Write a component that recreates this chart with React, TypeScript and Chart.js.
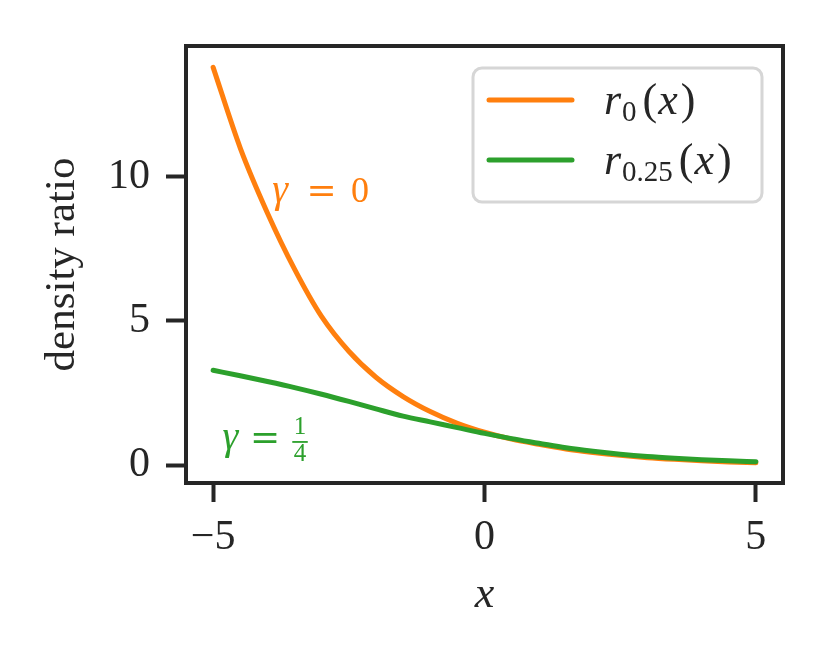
import { useEffect, useRef } from 'react';
import { Chart, registerables } from 'chart.js';

Chart.register(...registerables);

// ---- data ----
const xValues = [-5, -4.5, -4, -3.5, -3, -2.5, -2, -1.5, -1, -0.5, 0, 0.5, 1, 1.5, 2, 2.5, 3, 3.5, 4, 4.5, 5];
const r0Values = [13.8, 11.0, 8.75, 6.8, 5.15, 3.95, 3.05, 2.38, 1.86, 1.45, 1.14, 0.9, 0.72, 0.56, 0.44, 0.34, 0.26, 0.2, 0.15, 0.11, 0.08];
const r025Values = [3.29, 3.1, 2.9, 2.69, 2.46, 2.21, 1.95, 1.7, 1.5, 1.3, 1.1, 0.92, 0.76, 0.6, 0.48, 0.38, 0.3, 0.24, 0.19, 0.15, 0.12];
const xTicks = [-5, 0, 5];
const yTicks = [0, 5, 10];
const seriesBase = ['r', 'r'];
const seriesSub = ['0', '0.25'];
const xTitle = 'x';
const yTitle = 'density ratio';

const ORANGE = '#ff7f0e';
const GREEN = '#2ca02c';
const DARK = '#262626';
const SERIF = '"Liberation Serif", "Times New Roman", serif';
const WIDE = '"DejaVu Serif", serif';

const decorPlugin = {
  id: 'decor',
  afterDraw(chart: any) {
    const { ctx, chartArea: a, scales } = chart;
    ctx.save();
    // frame (spines)
    ctx.strokeStyle = DARK;
    ctx.lineWidth = 4;
    ctx.strokeRect(a.left, a.top, a.right - a.left, a.bottom - a.top);

    // legend
    const lx = a.right - 310;
    const ly = a.top + 22;
    const lw = 289;
    const lh = 134;
    ctx.beginPath();
    ctx.roundRect(lx, ly, lw, lh, 9);
    ctx.fillStyle = 'rgba(255,255,255,0.85)';
    ctx.fill();
    ctx.lineWidth = 3;
    ctx.strokeStyle = '#d6d6d6';
    ctx.stroke();

    const colors = [ORANGE, GREEN];
    for (let i = 0; i < 2; i++) {
      const y = ly + 32 + i * 60;
      ctx.beginPath();
      ctx.moveTo(lx + 16, y);
      ctx.lineTo(lx + 99, y);
      ctx.lineWidth = 5;
      ctx.lineCap = 'round';
      ctx.strokeStyle = colors[i];
      ctx.stroke();

      ctx.fillStyle = DARK;
      ctx.textAlign = 'left';
      ctx.textBaseline = 'alphabetic';
      const base = y + 14;
      let cx = lx + 131;
      ctx.font = `italic 44px ${SERIF}`;
      ctx.fillText(seriesBase[i], cx, base);
      cx += ctx.measureText(seriesBase[i]).width + 1;
      ctx.font = `29px ${SERIF}`;
      ctx.fillText(seriesSub[i], cx, base + 7);
      cx += ctx.measureText(seriesSub[i]).width + 6;
      ctx.font = `44px ${SERIF}`;
      ctx.fillText('(', cx, base);
      cx += ctx.measureText('(').width + 1;
      ctx.font = `italic 44px ${SERIF}`;
      ctx.fillText('x', cx, base);
      cx += ctx.measureText('x').width + 3;
      ctx.font = `44px ${SERIF}`;
      ctx.fillText(')', cx, base);
    }

    // annotations
    const xs = scales.x;
    const ys = scales.y;
    ctx.textAlign = 'center';
    ctx.textBaseline = 'alphabetic';

    // gamma = 0
    {
      const px = xs.getPixelForValue(-3.97);
      const py = ys.getPixelForValue(9.52);
      const base = py + 11.5;
      ctx.fillStyle = ORANGE;
      ctx.font = `italic 40px ${SERIF}`;
      ctx.fillText('γ', px + 11, base);
      ctx.font = `36px ${WIDE}`;
      ctx.fillText('=', px + 52.5, base);
      ctx.font = `36px ${SERIF}`;
      ctx.fillText('0', px + 91, base);
    }
    // gamma = 1/4
    {
      const px = xs.getPixelForValue(-4.85);
      const py = ys.getPixelForValue(0.87);
      const base = py + 9;
      ctx.fillStyle = GREEN;
      ctx.font = `italic 40px ${SERIF}`;
      ctx.fillText('γ', px + 9, base);
      ctx.font = `36px ${WIDE}`;
      ctx.fillText('=', px + 43.7, base);
      ctx.font = `25px ${SERIF}`;
      ctx.fillText('1', px + 78.8, py - 5.6);
      ctx.fillText('4', px + 78.8, py + 21);
      ctx.fillRect(px + 71, py + 1, 15.5, 1.8);
    }
    ctx.restore();
  },
};

export default function App() {
  const canvasRef = useRef<HTMLCanvasElement | null>(null);

  useEffect(() => {
    document.body.style.margin = '0';
    const canvas = canvasRef.current;
    if (!canvas) return;
    const chart = new Chart(canvas, {
      type: 'line',
      data: {
        datasets: [
          {
            label: 'r0.25(x)',
            data: xValues.map((x, i) => ({ x, y: r025Values[i] })),
            borderColor: GREEN,
            backgroundColor: GREEN,
            borderWidth: 5,
            borderCapStyle: 'round',
            borderJoinStyle: 'round',
            pointRadius: 0,
            cubicInterpolationMode: 'monotone',
            order: 0,
          },
          {
            label: 'r0(x)',
            data: xValues.map((x, i) => ({ x, y: r0Values[i] })),
            borderColor: ORANGE,
            backgroundColor: ORANGE,
            borderWidth: 5,
            borderCapStyle: 'round',
            borderJoinStyle: 'round',
            pointRadius: 0,
            cubicInterpolationMode: 'monotone',
            order: 1,
          },
        ],
      },
      options: {
        responsive: false,
        animation: false,
        devicePixelRatio: 1,
        layout: { padding: { left: 0, right: 47, top: 46, bottom: 0 } },
        plugins: { legend: { display: false }, tooltip: { enabled: false } },
        scales: {
          x: {
            type: 'linear',
            min: -5.5,
            max: 5.5,
            afterBuildTicks: (s: any) => {
              s.ticks = xTicks.map((v) => ({ value: v }));
            },
            afterFit: (s: any) => {
              s.height = 181;
            },
            border: { display: false },
            grid: {
              drawOnChartArea: false,
              drawTicks: true,
              tickLength: 19,
              tickWidth: 4,
              tickColor: DARK,
            },
            ticks: {
              color: DARK,
              padding: 11,
              maxRotation: 0,
              font: { family: SERIF, size: 42 },
              callback: (v: any) => (Number(v) < 0 ? '\u2212' + Math.abs(Number(v)) : String(v)),
            },
            title: {
              display: true,
              text: xTitle,
              color: DARK,
              font: { family: SERIF, size: 44, style: 'italic' },
              padding: { top: 0, bottom: 42 },
            },
          },
          y: {
            type: 'linear',
            min: -0.62,
            max: 14.54,
            afterBuildTicks: (s: any) => {
              s.ticks = yTicks.map((v) => ({ value: v }));
            },
            afterFit: (s: any) => {
              s.width = 186;
            },
            border: { display: false },
            grid: {
              drawOnChartArea: false,
              drawTicks: true,
              tickLength: 20,
              tickWidth: 4,
              tickColor: DARK,
            },
            ticks: {
              color: DARK,
              padding: 16,
              font: { family: SERIF, size: 42 },
              callback: (v: any) => String(v),
            },
            title: {
              display: true,
              text: yTitle,
              color: DARK,
              font: { family: SERIF, size: 43 },
              padding: { top: 37, bottom: 0 },
            },
          },
        },
      },
      plugins: [decorPlugin],
    } as any);
    return () => chart.destroy();
  }, []);

  return (
    <div style={{ position: 'absolute', left: 0, top: 0, width: 830, height: 664 }}>
      <canvas ref={canvasRef} width={830} height={664} />
    </div>
  );
}
